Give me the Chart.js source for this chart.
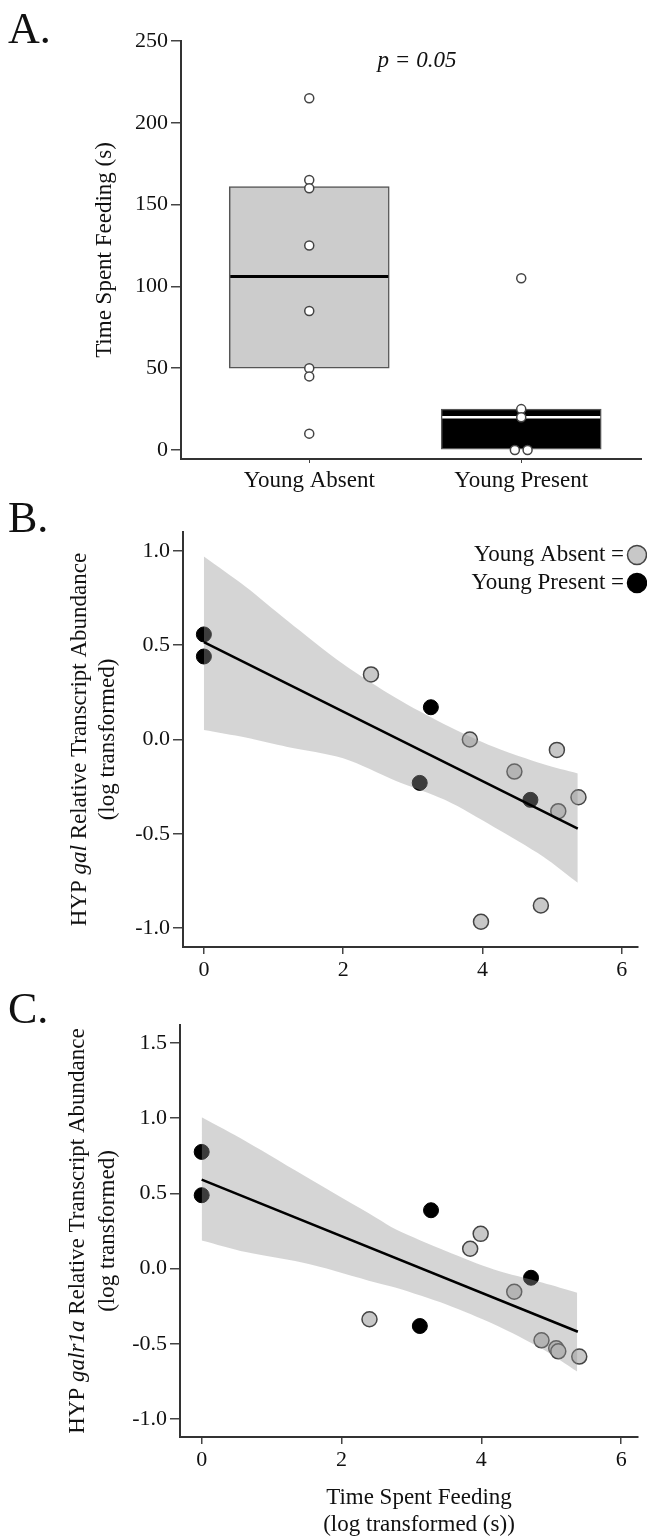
<!DOCTYPE html>
<html>
<head>
<meta charset="utf-8">
<script src="https://cdn.jsdelivr.net/npm/chart.js@4.4.1/dist/chart.umd.min.js"></script>
<style>
  body { margin: 0; background: #fff; width: 647px; height: 1537px; position: relative; overflow: hidden; }
  canvas { position: absolute; left: 0; }
</style>
</head>
<body>
<canvas id="chartA" width="647" height="500" style="top:0px"></canvas>
<canvas id="chartB" width="647" height="490" style="top:500px"></canvas>
<canvas id="chartC" width="647" height="547" style="top:990px"></canvas>
<script>
// ---- panel A: time spent feeding by group ----
const groups = ['Young Absent', 'Young Present'];
const groupPos = [1, 2];
const boxLow = [50, 0];
const boxHigh = [161, 25];
const boxMedian = [106, 20];
const absentFeed = [215, 165, 160, 125, 85, 50, 45, 10];
const absentFeedX = [1, 1, 1, 1, 1, 1, 1, 1];
const presentFeed = [105, 25, 20, 0, 0];
const presentFeedX = [2, 2, 2, 1.97, 2.03];
const feedTicks = [0, 50, 100, 150, 200, 250];

// ---- panel B: gal vs feeding ----
const galAbsentX = [2.40, 3.82, 5.07, 4.46, 5.09, 5.38, 4.84, 3.98];
const galAbsentY = [0.345, 0.0, -0.055, -0.17, -0.38, -0.306, -0.88, -0.966];
const galPresentX = [0, 0, 3.26, 3.10, 4.69];
const galPresentY = [0.557, 0.44, 0.171, -0.23, -0.32];
const galFitX = [0, 5.37];
const galFitY = [0.516, -0.472];
const galBandX = [0, 0.6, 1.2, 2.0, 2.76, 3.46, 4.17, 4.87, 5.37];
const galBandHi = [0.97, 0.81, 0.63, 0.40, 0.22, 0.08, -0.04, -0.13, -0.18];
const galBandLo = [0.05, 0.01, -0.04, -0.10, -0.22, -0.32, -0.465, -0.62, -0.76];

// ---- panel C: galr1a vs feeding ----
const galrAbsentX = [2.40, 3.84, 3.99, 4.47, 4.86, 5.07, 5.10, 5.40];
const galrAbsentY = [-0.337, 0.132, 0.231, -0.154, -0.477, -0.53, -0.55, -0.585];
const galrPresentX = [0, 0, 3.28, 3.12, 4.71];
const galrPresentY = [0.776, 0.488, 0.388, -0.382, -0.061];
const galrFitX = [0, 5.38];
const galrFitY = [0.592, -0.42];
const galrBandX = [0, 0.63, 1.56, 2.50, 2.78, 3.50, 4.18, 4.88, 5.37];
const galrBandHi = [1.006, 0.847, 0.592, 0.337, 0.26, 0.115, -0.006, -0.094, -0.16];
const galrBandLo = [0.187, 0.11, 0.028, -0.094, -0.127, -0.238, -0.37, -0.537, -0.685];

const SERIF = "'Liberation Serif', 'Times New Roman', serif";
const TITLE_SIZE = 23;
Chart.defaults.font.family = SERIF;
Chart.defaults.font.size = 22;
Chart.defaults.color = '#111';
Chart.defaults.animation = false;

const zip = (xs, ys) => xs.map((x, i) => ({ x: x, y: ys[i] }));

function axisStyle(tickLength, padding) {
  return {
    grid: { display: true, drawOnChartArea: false, drawTicks: true, tickLength: tickLength, color: '#444', lineWidth: 1.5, offset: false },
    border: { display: true, color: '#333', width: 2 },
    ticks: { padding: padding, color: '#111', includeBounds: false, maxRotation: 0, autoSkip: false }
  };
}

// draw a line of text made of plain/italic parts, centred on (0,0)
function drawParts(ctx, parts, size, y) {
  let total = 0;
  const widths = parts.map(p => {
    ctx.font = (p[1] ? 'italic ' : '') + size + 'px ' + SERIF;
    const w = ctx.measureText(p[0]).width;
    total += w;
    return w;
  });
  let x = -total / 2;
  parts.forEach((p, i) => {
    ctx.font = (p[1] ? 'italic ' : '') + size + 'px ' + SERIF;
    ctx.fillText(p[0], x, y);
    x += widths[i];
  });
}

function labelsPlugin(o) {
  return {
    id: 'labels',
    afterDraw(chart) {
      const ctx = chart.ctx;
      const area = chart.chartArea;
      ctx.save();
      ctx.fillStyle = '#111';
      ctx.textBaseline = 'alphabetic';
      ctx.textAlign = 'left';
      ctx.font = '44px ' + SERIF;
      ctx.fillText(o.panel, 8, o.panelY);

      // rotated y title
      ctx.textBaseline = 'middle';
      const cy = (area.top + area.bottom) / 2;
      o.yTitle.forEach((line, i) => {
        ctx.save();
        ctx.translate(o.yTitleX[i], cy);
        ctx.rotate(-Math.PI / 2);
        drawParts(ctx, line, TITLE_SIZE, 0);
        ctx.restore();
      });

      if (o.xTitle) {
        o.xTitle.forEach((line, i) => {
          ctx.save();
          ctx.translate(o.xTitleX, o.xTitleY[i]);
          drawParts(ctx, line, TITLE_SIZE, 0);
          ctx.restore();
        });
      }
      if (o.extra) o.extra(chart, ctx);
      ctx.restore();
    }
  };
}

// ---------- Panel A ----------
const medianPlugin = {
  id: 'medians',
  afterDatasetDraw(chart, args) {
    if (args.index !== 0) return;
    const ctx = chart.ctx;
    const yScale = chart.scales.y;
    const colors = ['#000', '#fff'];
    chart.getDatasetMeta(0).data.forEach((bar, i) => {
      const p = bar.getProps(['x', 'width'], true);
      const y = yScale.getPixelForValue(boxMedian[i]);
      ctx.save();
      ctx.strokeStyle = colors[i];
      ctx.lineWidth = i === 0 ? 3 : 2.5;
      ctx.beginPath();
      ctx.moveTo(p.x - p.width / 2 + 1, y);
      ctx.lineTo(p.x + p.width / 2 - 1, y);
      ctx.stroke();
      ctx.restore();
    });
  }
};

const axA = axisStyle(10, 3);
new Chart(document.getElementById('chartA'), {
  data: {
    datasets: [
      {
        type: 'bar',
        data: groupPos.map((x, i) => ({ x: x, y: [boxLow[i], boxHigh[i]] })),
        backgroundColor: ['#cccccc', '#000000'],
        borderColor: '#555',
        borderWidth: 1.5,
        borderSkipped: false,
        barThickness: 160,
        order: 2
      },
      {
        type: 'scatter',
        data: zip(absentFeedX, absentFeed).concat(zip(presentFeedX, presentFeed)),
        backgroundColor: '#fff',
        borderColor: '#444',
        borderWidth: 1.5,
        pointRadius: 4.5,
        order: 1
      }
    ]
  },
  options: {
    responsive: false,
    layout: { padding: { top: 41, left: 0, right: 0, bottom: 0 } },
    plugins: { legend: { display: false }, tooltip: { enabled: false } },
    scales: {
      x: {
        type: 'linear', min: 0.395, max: 2.565, offset: false,
        grid: { display: true, drawOnChartArea: false, tickLength: 4, color: '#444', lineWidth: 1, offset: false },
        border: axA.border,
        ticks: { padding: 4, color: '#111', maxRotation: 0, autoSkip: false, font: { size: 23 }, callback: (v, i) => groups[i] },
        afterBuildTicks: s => { s.ticks = groupPos.map(v => ({ value: v })); },
        afterFit: s => { s.height = 41; }
      },
      y: {
        type: 'linear', min: -5.5, max: 250,
        grid: axA.grid, border: axA.border,
        ticks: axA.ticks,
        afterBuildTicks: s => { s.ticks = feedTicks.map(v => ({ value: v })); },
        afterFit: s => { s.width = 181; }
      }
    }
  },
  plugins: [medianPlugin, labelsPlugin({
    panel: 'A.', panelY: 43,
    yTitle: [[['Time Spent Feeding (s)', false]]], yTitleX: [105],
    extra: (chart, ctx) => {
      ctx.textAlign = 'left';
      ctx.textBaseline = 'middle';
      ctx.translate(417, 61);
      drawParts(ctx, [['p = 0.05', true]], TITLE_SIZE, 0);
    }
  })]
});

// ---------- Panels B and C ----------
function regressionPanel(id, d) {
  const ax = axisStyle(d.yTick, 3);
  const axx = axisStyle(7, 3);
  return new Chart(document.getElementById(id), {
    type: 'scatter',
    data: {
      datasets: [
        {
          type: 'line', data: zip(d.fitX, d.fitY),
          borderColor: '#000', borderWidth: 2.5, pointRadius: 0, fill: false, order: 0
        },
        {
          type: 'line', data: zip(d.bandX, d.bandHi),
          borderWidth: 0, pointRadius: 0, fill: '+1', tension: 0.3,
          backgroundColor: 'rgba(150,150,150,0.4)', order: 1
        },
        {
          type: 'line', data: zip(d.bandX, d.bandLo),
          borderWidth: 0, pointRadius: 0, fill: false, tension: 0.3, order: 1
        },
        {
          data: zip(d.absX, d.absY),
          backgroundColor: '#c8c8c8', borderColor: '#444', borderWidth: 1.5, pointRadius: 7.5, order: 2
        },
        {
          data: zip(d.preX, d.preY),
          backgroundColor: '#000', borderColor: '#000', borderWidth: 1, pointRadius: 7.5, order: 2
        }
      ]
    },
    options: {
      responsive: false,
      layout: { padding: { top: d.padTop, left: 0, right: 0, bottom: 0 } },
      plugins: { legend: { display: false }, tooltip: { enabled: false } },
      scales: {
        x: {
          type: 'linear', min: d.xMin, max: d.xMax,
          grid: axx.grid, border: axx.border,
          ticks: Object.assign({}, axx.ticks, { stepSize: 2 }),
          afterFit: s => { s.height = d.xHeight; }
        },
        y: {
          type: 'linear', min: d.yMin, max: d.yMax,
          grid: ax.grid, border: ax.border,
          ticks: Object.assign({}, ax.ticks, { stepSize: 0.5, callback: v => v.toFixed(1) }),
          afterFit: s => { s.width = d.yWidth; }
        }
      }
    },
    plugins: [labelsPlugin(d.labels)]
  });
}

regressionPanel('chartB', {
  absX: galAbsentX, absY: galAbsentY, preX: galPresentX, preY: galPresentY,
  fitX: galFitX, fitY: galFitY, bandX: galBandX, bandHi: galBandHi, bandLo: galBandLo,
  padTop: 32, xHeight: 43, yWidth: 183, yTick: 10,
  xMin: -0.3, xMax: 6.235, yMin: -1.1, yMax: 1.1,
  labels: {
    panel: 'B.', panelY: 32,
    yTitle: [
      [['HYP ', false], ['gal', true], [' Relative Transcript Abundance', false]],
      [['(log transformed)', false]]
    ],
    yTitleX: [80, 108],
    extra: (chart, ctx) => {
      const rows = [['Young Absent =', '#c8c8c8', '#444'], ['Young Present =', '#000', '#000']];
      rows.forEach((r, i) => {
        const y = 55 + i * 28;
        ctx.font = TITLE_SIZE + 'px ' + SERIF;
        ctx.textAlign = 'right';
        ctx.textBaseline = 'middle';
        ctx.fillStyle = '#111';
        ctx.fillText(r[0], 624, y);
        ctx.beginPath();
        ctx.arc(637, y, 9.5, 0, Math.PI * 2);
        ctx.fillStyle = r[1];
        ctx.fill();
        ctx.lineWidth = 1.5;
        ctx.strokeStyle = r[2];
        ctx.stroke();
      });
    }
  }
});

regressionPanel('chartC', {
  absX: galrAbsentX, absY: galrAbsentY, preX: galrPresentX, preY: galrPresentY,
  fitX: galrFitX, fitY: galrFitY, bandX: galrBandX, bandHi: galrBandHi, bandLo: galrBandLo,
  padTop: 35, xHeight: 100, yWidth: 180, yTick: 10,
  xMin: -0.31, xMax: 6.24, yMin: -1.12, yMax: 1.62,
  labels: {
    panel: 'C.', panelY: 33,
    yTitle: [
      [['HYP ', false], ['galr1a', true], [' Relative Transcript Abundance', false]],
      [['(log transformed)', false]]
    ],
    yTitleX: [78, 108],
    xTitle: [[['Time Spent Feeding', false]], [['(log transformed (s))', false]]],
    xTitleX: 419, xTitleY: [508, 535]
  }
});
</script>
</body>
</html>
